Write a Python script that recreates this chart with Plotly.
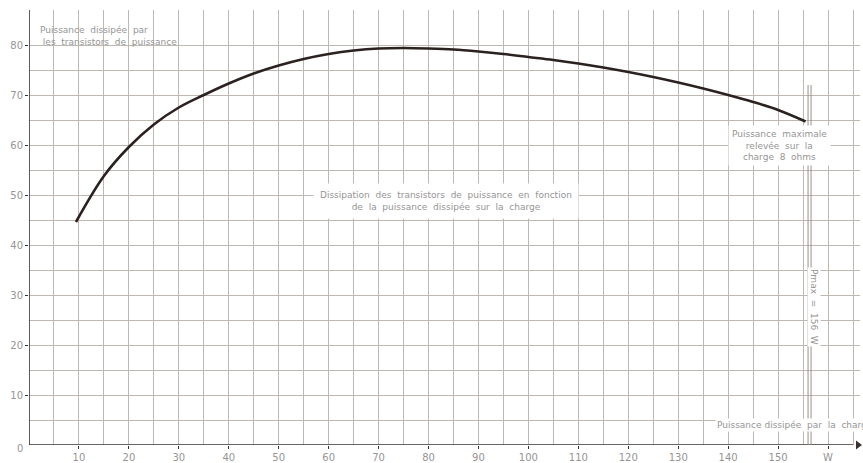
import plotly.graph_objects as go

# Power dissipated in the load (W) and power dissipated by the power transistors (W)
load_power = [9.4, 15, 20, 25, 30, 35, 40, 45, 50, 55, 60, 65, 70, 75, 80, 85,
              90, 95, 100, 105, 110, 115, 120, 125, 130, 135, 140, 145, 150, 155.5]
transistor_power = [44.6, 53.8, 59.6, 64.1, 67.5, 70.0, 72.3, 74.3, 75.9, 77.2,
                    78.2, 78.9, 79.3, 79.4, 79.3, 79.1, 78.7, 78.2, 77.6, 77.0, 76.3,
                    75.5, 74.6, 73.6, 72.5, 71.3, 70.0, 68.6, 67.0, 64.7]

x_tick_vals = [10, 20, 30, 40, 50, 60, 70, 80, 90, 100, 110, 120, 130, 140, 150, 160]
x_tick_text = ["10", "20", "30", "40", "50", "60", "70", "80", "90", "100", "110",
               "120", "130", "140", "150", "W"]
y_tick_vals = [10, 20, 30, 40, 50, 60, 70, 80]
y_tick_text = ["10", "20", "30", "40", "50", "60", "70", "80"]
PMAX = 156

GRID = "#bfb7b1"
TXT = "#959595"
AX = "#3a3030"
FONT = "DejaVu Sans"

fig = go.Figure()
fig.add_trace(go.Scatter(
    x=load_power, y=transistor_power, mode="lines",
    line=dict(color="#2b2220", width=2.6, shape="spline", smoothing=1.0),
    showlegend=False, hoverinfo="skip"))

# arrow end of x axis
fig.add_trace(go.Scatter(x=[166], y=[0], mode="markers",
                         marker=dict(symbol="triangle-right", size=8, color=AX),
                         showlegend=False, hoverinfo="skip", cliponaxis=False))

fig.update_xaxes(
    range=[0, 166.4], tickvals=x_tick_vals, ticktext=x_tick_text, automargin=False,
    showgrid=True, gridcolor=GRID, gridwidth=1,
    minor=dict(dtick=5, tick0=0, showgrid=True, gridcolor=GRID, gridwidth=1),
    showline=False, zeroline=False, ticks="outside", ticklen=3, tickcolor=AX,
    tickfont=dict(family=FONT, size=10, color=TXT))
fig.update_yaxes(
    range=[0, 87], tickvals=y_tick_vals, ticktext=y_tick_text, automargin=False,
    showgrid=True, gridcolor=GRID, gridwidth=1,
    minor=dict(tickvals=[5, 15, 25, 35, 45, 55, 65, 75], showgrid=True,
               gridcolor=GRID, gridwidth=1),
    showline=False, zeroline=False, ticks="outside", ticklen=3, tickcolor=AX,
    tickfont=dict(family=FONT, size=10, color=TXT))

# axes lines
fig.add_shape(type="line", xref="x", yref="y", x0=0, x1=0, y0=0, y1=87,
              line=dict(color=AX, width=1.6))
fig.add_shape(type="line", xref="x", yref="y", x0=-1, x1=165, y0=0, y1=0,
              line=dict(color=AX, width=1.6))
# Pmax double line
fig.add_shape(type="line", xref="x", yref="y", x0=PMAX, x1=PMAX, y0=0, y1=72,
              line=dict(color="#9a9088", width=1))
fig.add_shape(type="line", xref="x", yref="y", x0=PMAX + 0.6, x1=PMAX + 0.6, y0=0, y1=72,
              line=dict(color="#9a9088", width=1))

ann = dict(showarrow=False, font=dict(family=FONT, size=9, color=TXT))
fig.add_annotation(x=1.8, y=81.8, xref="x", yref="y", xanchor="left", align="left",
                   text="Puissance  dissipée  par<br> les  transistors  de  puissance", **ann)
fig.add_annotation(x=83.4, y=48.8, xref="x", yref="y", align="center",
                   bgcolor="white", borderpad=6,
                   text="Dissipation  des  transistors  de  puissance  en  fonction<br>de  la  puissance  dissipée  sur  la  charge",
                   **ann)
fig.add_annotation(x=150.2, y=60, xref="x", yref="y", align="center",
                   bgcolor="white", borderpad=3,
                   text="Puissance  maximale<br>relevée  sur  la<br>charge  8  ohms", **ann)
fig.add_annotation(x=157.2, y=27.6, xref="x", yref="y", textangle=90,
                   bgcolor="white", borderpad=1,
                   text="Pmax  =  156  W", **ann)
fig.add_annotation(x=137.4, y=4, xref="x", yref="y", xanchor="left",
                   bgcolor="white", borderpad=1,
                   text="Puissance dissipée  par  la  charge", **ann)
fig.add_annotation(x=-0.011, y=-0.008, xref="paper", yref="paper",
                   xanchor="center", yanchor="middle",
                   text="0", showarrow=False, font=dict(family=FONT, size=10, color=TXT))

fig.update_layout(
    width=863, height=463,
    margin=dict(l=29, r=3, t=10, b=18, autoexpand=False),
    paper_bgcolor="white", plot_bgcolor="white",
)

fig.write_html("out.html", config={"displayModeBar": False},
               post_script="document.body.style.margin='0';document.body.style.overflow='hidden';")
